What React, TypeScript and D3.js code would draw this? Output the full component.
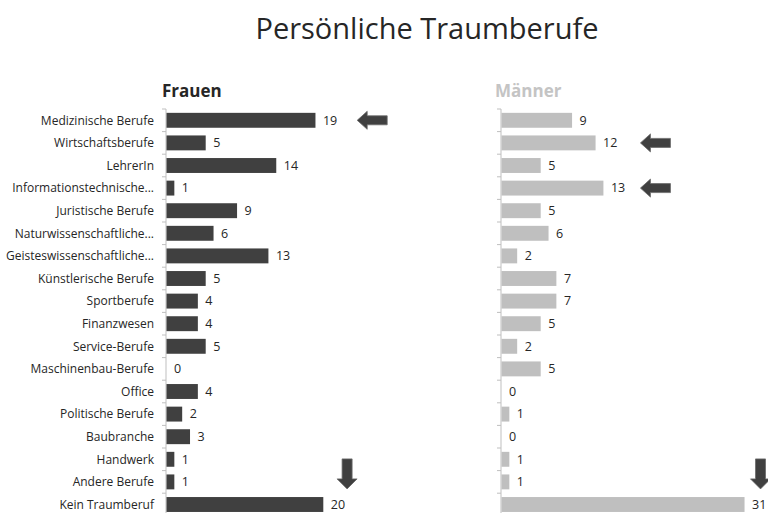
import { scaleBand, scaleLinear } from 'd3'

const categories = [
  'Medizinische Berufe',
  'Wirtschaftsberufe',
  'LehrerIn',
  'Informationstechnische...',
  'Juristische Berufe',
  'Naturwissenschaftliche...',
  'Geisteswissenschaftliche...',
  'Künstlerische Berufe',
  'Sportberufe',
  'Finanzwesen',
  'Service-Berufe',
  'Maschinenbau-Berufe',
  'Office',
  'Politische Berufe',
  'Baubranche',
  'Handwerk',
  'Andere Berufe',
  'Kein Traumberuf',
]

const frauenValues = [19, 5, 14, 1, 9, 6, 13, 5, 4, 4, 5, 0, 4, 2, 3, 1, 1, 20]
const maennerValues = [9, 12, 5, 13, 5, 6, 2, 7, 7, 5, 2, 5, 0, 1, 0, 1, 1, 31]

// arrows pointing at the highlighted rows: panel, row, position in value units, direction
const arrowNotes = [
  { panel: 'frauen', category: 'Medizinische Berufe', at: 26.3, dir: 'left' },
  { panel: 'maenner', category: 'Wirtschaftsberufe', at: 19.7, dir: 'left' },
  { panel: 'maenner', category: 'Informationstechnische...', at: 19.7, dir: 'left' },
  { panel: 'frauen', category: 'Andere Berufe', at: 23.1, dir: 'down' },
  { panel: 'maenner', category: 'Andere Berufe', at: 33.1, dir: 'down' },
]

const width = 768
const height = 513
const font = '"Open Sans", "Liberation Sans", sans-serif'

const panels = [
  { key: 'frauen', title: 'Frauen', values: frauenValues, axisX: 166, titleX: 162, color: '#404040', titleColor: '#262626' },
  { key: 'maenner', title: 'Männer', values: maennerValues, axisX: 501, titleX: 495, color: '#bfbfbf', titleColor: '#c4c4c4' },
]

function arrowPath(cx: number, cy: number, dir: string) {
  const len = 30
  const head = 10
  const body = 4.5
  const wing = 9
  if (dir === 'left') {
    const x0 = cx - len / 2
    const x1 = cx + len / 2
    return `M${x0},${cy} L${x0 + head},${cy - wing} L${x0 + head},${cy - body} L${x1},${cy - body} L${x1},${cy + body} L${x0 + head},${cy + body} L${x0 + head},${cy + wing} Z`
  }
  const y0 = cy - len / 2
  const y1 = cy + len / 2
  return `M${cx},${y1} L${cx - wing - 1},${y1 - head} L${cx - body - 0.5},${y1 - head} L${cx - body - 0.5},${y0} L${cx + body + 0.5},${y0} L${cx + body + 0.5},${y1 - head} L${cx + wing + 1},${y1 - head} Z`
}

function App() {
  const top = 109
  const rowStep = 22.6
  const yScale = scaleBand<string>()
    .domain(categories)
    .range([top, top + categories.length * rowStep])
    .paddingInner(0.34)
    .paddingOuter(0.17)

  const step = yScale.step()
  const barH = yScale.bandwidth()
  const xScale = scaleLinear().domain([0, 1]).range([0, 7.84])
  const ticks = Array.from({ length: categories.length + 1 }, (_, i) => top + i * step)

  return (
    <svg
      width={width}
      height={height}
      viewBox={`0 0 ${width} ${height}`}
      style={{ position: 'absolute', left: 0, top: 0, background: '#fff' }}
      fontFamily={font}
    >
      <text x={427} y={39} textAnchor="middle" fontSize={29} fill="#262626">
        Persönliche Traumberufe
      </text>

      {categories.map((cat) => (
        <text
          key={`${cat}-label`}
          x={154}
          y={(yScale(cat) ?? 0) + barH / 2}
          dy="0.35em"
          textAnchor="end"
          fontSize={12}
          fill="#262626"
        >
          {cat}
        </text>
      ))}

      {panels.map((panel) => (
        <g key={panel.key}>
          <text x={panel.titleX} y={97} fontSize={17} fontWeight="bold" fill={panel.titleColor}>
            {panel.title}
          </text>
          <line x1={panel.axisX} x2={panel.axisX} y1={ticks[0]} y2={height} stroke="#bfbfbf" />
          {ticks.map((t) => (
            <line key={`${panel.key}-${t}`} x1={panel.axisX - 4} x2={panel.axisX} y1={t} y2={t} stroke="#bfbfbf" />
          ))}
          {categories.map((cat, i) => {
            const y = yScale(cat) ?? 0
            const w = xScale(panel.values[i])
            return (
              <g key={`${panel.key}-${cat}`}>
                <rect x={panel.axisX + 0.5} y={y} width={w} height={barH} fill={panel.color} />
                <text
                  x={panel.axisX + w + 8}
                  y={y + barH / 2}
                  dy="0.35em"
                  fontSize={12.5}
                  fill="#262626"
                >
                  {panel.values[i]}
                </text>
              </g>
            )
          })}
          {arrowNotes
            .filter((a) => a.panel === panel.key)
            .map((a) => {
              const rowMid = (yScale(a.category) ?? 0) + barH / 2
              const cx = panel.axisX + xScale(a.at)
              const cy = a.dir === 'left' ? rowMid : rowMid - 8
              return (
                <path
                  key={`${panel.key}-${a.category}-arrow`}
                  d={arrowPath(cx, cy, a.dir)}
                  fill="#404040"
                  stroke="#6a6a6a"
                  strokeWidth={0.8}
                />
              )
            })}
        </g>
      ))}
    </svg>
  )
}

export default App
